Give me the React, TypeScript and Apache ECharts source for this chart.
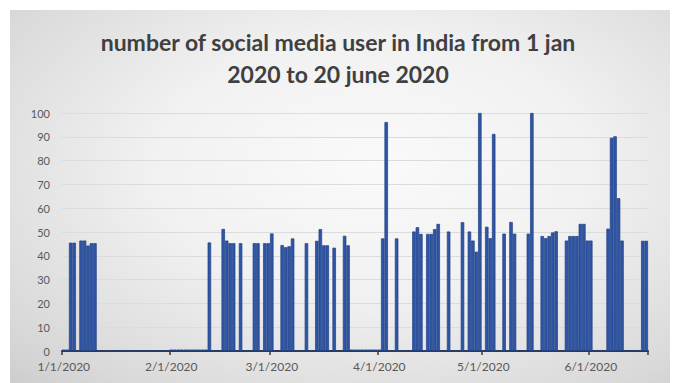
import React, { useEffect, useRef } from 'react';
import * as echarts from 'echarts';

// Axis range (category axis, one cell per day)
const startYear = 2020;
const dayCount = 169; // 1 Jan 2020 .. 18 Jun 2020
const yTickMax = 100;
const yTickStep = 10;

const titleText = 'number of social media user in India from 1 jan\n2020 to 20 june 2020';

// Daily values, grouped per month (day of month -> value)
const janDays = [1, 2, 3, 4, 6, 7, 8, 9, 10];
const janValues = [0.6, 0.6, 45.5, 45.5, 46.4, 46.4, 44.3, 45.3, 45.3];

const febDays = [1, 2, 3, 4, 5, 6, 7, 8, 9, 10, 11, 12, 16, 17, 18, 19, 21, 25, 26, 28, 29];
const febValues = [0.6, 0.6, 0.6, 0.6, 0.6, 0.6, 0.6, 0.6, 0.6, 0.6, 0.6, 45.6, 51.3, 46.4, 45.3, 45.3, 45.3, 45.3, 45.3, 45.3, 45.3];

const marDays = [1, 4, 5, 6, 7, 11, 14, 15, 16, 17, 19, 22, 23, 24, 25, 26, 27, 28, 29, 30, 31];
const marValues = [49.4, 44.5, 43.6, 44, 47.3, 45.3, 46.3, 51.2, 44.4, 44.4, 43.4, 48.4, 44.4, 0.6, 0.6, 0.6, 0.6, 0.6, 0.6, 0.6, 0.6];

const aprDays = [1, 2, 3, 6, 11, 12, 13, 15, 16, 17, 18, 21, 25, 27, 28, 29, 30];
const aprValues = [0.6, 47.3, 96.2, 47.3, 50.2, 52, 49.2, 49.2, 49.2, 51.2, 53.4, 50.2, 54.1, 50.2, 46.4, 41.7, 100];

const mayDays = [2, 3, 4, 7, 9, 10, 14, 15, 18, 19, 20, 21, 22, 25, 26, 27, 28, 29, 30, 31];
const mayValues = [52.2, 47.4, 91.2, 49.3, 54.2, 49.3, 49.3, 100, 48.3, 47.4, 48.3, 49.8, 50.3, 46.4, 48.3, 48.3, 48.3, 53.4, 53.4, 46.4];

const junDays = [1, 6, 7, 8, 9, 10, 16, 17];
const junValues = [46.4, 51.4, 89.6, 90.2, 64.2, 46.4, 46.3, 46.3];

const monthTables: [number, number[], number[]][] = [
  [1, janDays, janValues],
  [2, febDays, febValues],
  [3, marDays, marValues],
  [4, aprDays, aprValues],
  [5, mayDays, mayValues],
  [6, junDays, junValues],
];

function buildData() {
  const lookup: Record<string, number> = {};
  monthTables.forEach(([m, days, vals]) => {
    days.forEach((d, i) => {
      lookup[`${m}/${d}/${startYear}`] = vals[i];
    });
  });
  const cats: string[] = [];
  const firsts: boolean[] = [];
  for (let i = 0; i < dayCount; i++) {
    const dt = new Date(startYear, 0, 1 + i);
    cats.push(`${dt.getMonth() + 1}/${dt.getDate()}/${dt.getFullYear()}`);
    firsts.push(dt.getDate() === 1);
  }
  const values = cats.map((c) => (c in lookup ? lookup[c] : 0));
  return { cats, firsts, values };
}

export default function App() {
  const ref = useRef<HTMLDivElement>(null);
  useEffect(() => {
    if (!ref.current) return;
    const chart = echarts.init(ref.current, undefined, { renderer: 'svg' });
    const { cats, firsts, values } = buildData();
    const isFirst = (i: number) => firsts[i];
    const font = 'Lato, "Open Sans", sans-serif';
    chart.setOption({
      animation: false,
      backgroundColor: '#ffffff',
      graphic: {
        elements: [
          {
            type: 'rect',
            z: -10,
            silent: true,
            shape: { x: 10, y: 10, width: 660, height: 390 },
            style: {
              fill: new echarts.graphic.RadialGradient(0.55, 0.4, 0.95, [
                { offset: 0, color: '#fafafa' },
                { offset: 0.35, color: '#f1f1f1' },
                { offset: 0.7, color: '#d9d9d9' },
                { offset: 1, color: '#bdbdbd' },
              ]),
            },
          },
        ],
      },
      title: {
        text: titleText,
        left: 'center',
        top: 21,
        textStyle: {
          fontFamily: font,
          fontWeight: 'bold',
          fontSize: 23,
          lineHeight: 32,
          color: '#404040',
        },
      },
      grid: { left: 62, right: 28, top: 113, bottom: 32, containLabel: false },
      xAxis: {
        type: 'category',
        data: cats,
        boundaryGap: true,
        axisLine: { show: true, lineStyle: { color: '#3a3a3a', width: 2 } },
        axisTick: { show: true, interval: isFirst, length: 4, lineStyle: { color: '#3a3a3a', width: 1.5 } },
        axisLabel: {
          interval: isFirst,
          color: '#595959',
          fontSize: 12,
          fontFamily: font,
          margin: 9,
        },
        splitLine: { show: false },
      },
      yAxis: {
        type: 'value',
        min: 0,
        max: yTickMax,
        interval: yTickStep,
        axisLine: { show: false },
        axisTick: { show: false },
        axisLabel: { color: '#595959', fontSize: 11, fontFamily: font, margin: 12 },
        splitLine: { lineStyle: { color: '#dcdcdc', width: 1 } },
      },
      series: [
        {
          type: 'bar',
          data: values,
          barCategoryGap: '0%',
          itemStyle: { color: '#2f56a6', borderColor: '#1f4085', borderWidth: 0.7 },
        },
      ],
    });
    return () => chart.dispose();
  }, []);
  return (
    <div
      ref={ref}
      style={{ position: 'absolute', left: 0, top: 0, width: 676, height: 383 }}
    />
  );
}
